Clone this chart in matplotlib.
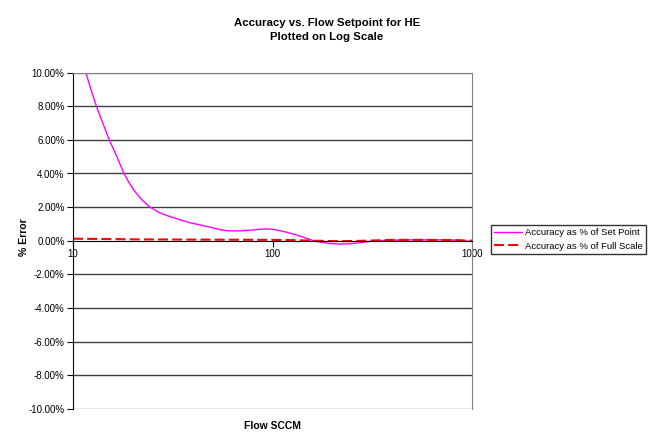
import matplotlib.pyplot as plt
from matplotlib.ticker import FixedLocator, NullLocator

plt.rcParams['font.family'] = ['Liberation Sans', 'DejaVu Sans']

# readings taken off the reference chart (flow in SCCM, error in %)
setpoint_flow = [11.6, 12.3, 13.1, 14.1, 15.2, 16.6, 18.0, 19.0, 20.0, 21.5, 23, 24.3, 27, 30.6,
                 34.5, 38.5, 43, 48, 54, 60, 68, 78, 86, 93, 100, 108, 118, 132, 145, 160, 180,
                 200, 218, 240, 270, 300, 333, 400, 500, 700, 850, 1000]
setpoint_err = [10.0, 9.0, 8.0, 7.0, 6.0, 5.0, 4.0, 3.5, 3.08, 2.6, 2.25, 2.0, 1.68, 1.43,
                1.24, 1.07, 0.95, 0.82, 0.67, 0.59, 0.58, 0.63, 0.68, 0.70, 0.68, 0.61, 0.5, 0.34, 0.18,
                0.0, -0.12, -0.18, -0.2, -0.19, -0.13, -0.06, 0.0, 0.03, 0.05, 0.05, 0.03, -0.05]

fullscale_flow = [10, 20, 50, 100, 130, 160, 220, 300, 400, 600, 800, 1000]
fullscale_err = [0.12, 0.08, 0.06, 0.05, 0.03, 0.0, -0.03, 0.0, 0.05, 0.05, 0.04, 0.0]

y_ticks = [-10, -8, -6, -4, -2, 0, 2, 4, 6, 8, 10]
x_ticks = [10, 100, 1000]

fig = plt.figure(figsize=(6.5, 4.44), dpi=100)
ax = fig.add_axes([73 / 650, 1 - 408.7 / 444, 399 / 650, 336 / 444])

ax.plot(setpoint_flow, setpoint_err, color='#FF00FF', lw=1, label='Accuracy as % of Set Point')
ax.plot(fullscale_flow, fullscale_err, color='#FF0000', lw=1.5, dashes=(4.8, 2),
        label='Accuracy as % of Full Scale')

ax.set_xscale('log')
ax.set_xlim(10, 1000)
ax.set_ylim(-10, 10)

ax.yaxis.set_major_locator(FixedLocator(y_ticks))
ax.set_yticklabels(['%.2f%%' % v for v in y_ticks])
ax.xaxis.set_major_locator(FixedLocator(x_ticks))
ax.xaxis.set_minor_locator(NullLocator())
ax.set_xticklabels([str(v) for v in x_ticks])

ax.spines['bottom'].set_position(('data', 0))
ax.spines['bottom'].set_color('black')
ax.spines['left'].set_color('black')
ax.spines['top'].set_color('#808080')
ax.spines['right'].set_color('#808080')
ax.tick_params(axis='y', direction='out', length=4, labelsize=7, pad=2)
ax.tick_params(axis='x', direction='out', length=4, labelsize=7, pad=2)

for v in y_ticks:
    if v == 0:
        continue
    c = '#808080' if abs(v) == 10 else '#404040'
    ax.axhline(v, color=c, lw=1, zorder=0.5)

ax.set_xlabel('Flow SCCM', fontsize=7.5, fontweight='bold')
ax.xaxis.set_label_coords(0.5, -0.037)
ax.set_ylabel('% Error', fontsize=7.5, fontweight='bold')
ax.yaxis.set_label_coords(-0.111, 0.51)

fig.text(327 / 650, 1 - 23 / 444, 'Accuracy vs. Flow Setpoint for HE', ha='center', va='center',
         fontsize=8.2, fontweight='bold')
fig.text(327 / 650, 1 - 37.5 / 444, 'Plotted on Log Scale', ha='center', va='center',
         fontsize=8.2, fontweight='bold')

leg = ax.legend(loc='center left', bbox_to_anchor=(490.5 / 650, 1 - 239.3 / 444),
                bbox_transform=fig.transFigure, fontsize=6.8, frameon=True, fancybox=False,
                handlelength=3.0, handletextpad=0.3, borderpad=0.35, labelspacing=0.5,
                borderaxespad=0)
leg.get_frame().set_edgecolor('black')
leg.get_frame().set_linewidth(1)

fig.savefig('out.png', dpi=100)
